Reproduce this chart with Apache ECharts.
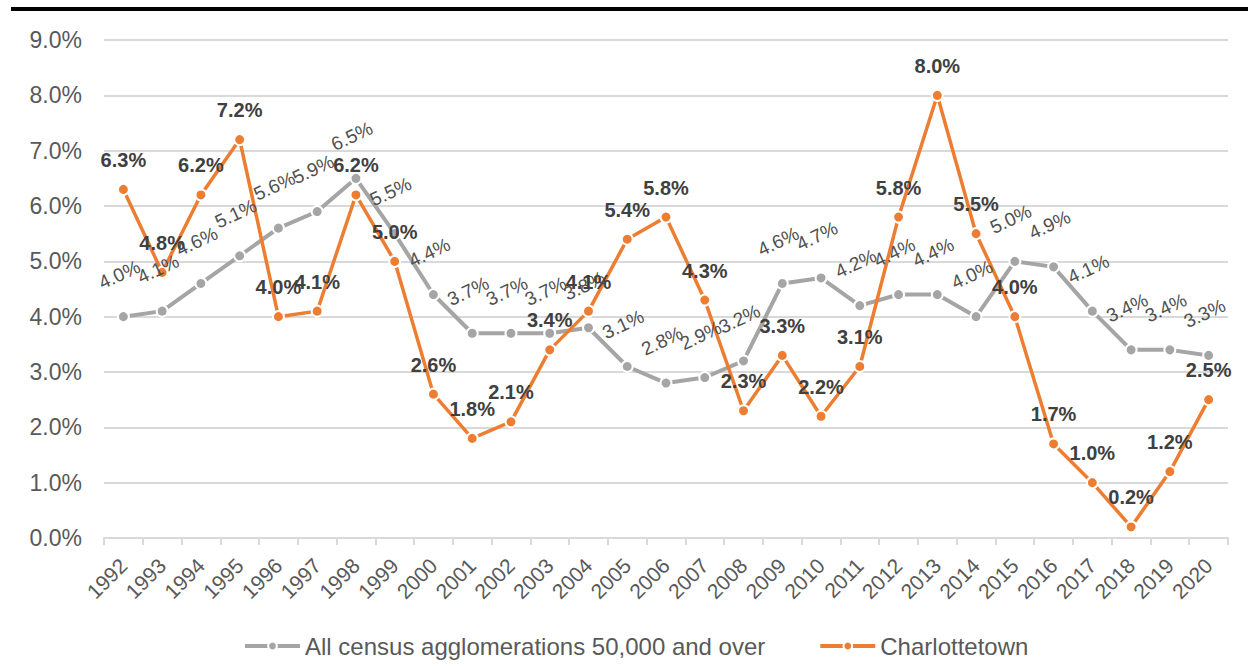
<!DOCTYPE html>
<html>
<head>
<meta charset="utf-8">
<script src="https://cdn.jsdelivr.net/npm/echarts@6/dist/echarts.min.js"></script>
<style>
  html, body { margin: 0; padding: 0; background: #fff; }
  #chart { width: 1248px; height: 666px; }
</style>
</head>
<body>
<div id="chart"></div>
<script>
var years = ['1992', '1993', '1994', '1995', '1996', '1997', '1998', '1999', '2000', '2001',
  '2002', '2003', '2004', '2005', '2006', '2007', '2008', '2009', '2010', '2011',
  '2012', '2013', '2014', '2015', '2016', '2017', '2018', '2019', '2020'];
var allCMA = [4.0, 4.1, 4.6, 5.1, 5.6, 5.9, 6.5, 5.5, 4.4, 3.7,
  3.7, 3.7, 3.8, 3.1, 2.8, 2.9, 3.2, 4.6, 4.7, 4.2,
  4.4, 4.4, 4.0, 5.0, 4.9, 4.1, 3.4, 3.4, 3.3];
var charlottetown = [6.3, 4.8, 6.2, 7.2, 4.0, 4.1, 6.2, 5.0, 2.6, 1.8,
  2.1, 3.4, 4.1, 5.4, 5.8, 4.3, 2.3, 3.3, 2.2, 3.1,
  5.8, 8.0, 5.5, 4.0, 1.7, 1.0, 0.2, 1.2, 2.5];
var seriesNames = ['All census agglomerations 50,000 and over', 'Charlottetown'];

var font = 'Liberation Sans, Arial, sans-serif';
var grey = '#A5A5A5';
var orange = '#ED7D31';
var text = '#595959';
var rule = '#D9D9D9';

function pct(p) { return p.value.toFixed(1) + '%'; }

var chart = echarts.init(document.getElementById('chart'), null, { renderer: 'svg' });
chart.setOption({
  animation: false,
  textStyle: { fontFamily: font },
  graphic: [{
    type: 'rect',
    shape: { x: 11, y: 7, width: 1237, height: 4 },
    style: { fill: '#000' }
  }],
  grid: { left: 104, right: 20, top: 40, bottom: 128 },
  legend: {
    data: seriesNames,
    top: 629,
    left: 238,
    itemGap: 53,
    itemWidth: 55,
    itemHeight: 11,
    lineStyle: { width: 4 },
    textStyle: { color: text, fontSize: 24, fontFamily: font }
  },
  xAxis: {
    type: 'category',
    data: years,
    boundaryGap: true,
    axisLine: { lineStyle: { color: rule, width: 2 } },
    axisTick: { show: true, length: 7, lineStyle: { color: rule, width: 2 } },
    axisLabel: { color: text, fontSize: 21, rotate: 45, interval: 0, margin: 24, fontFamily: font }
  },
  yAxis: {
    type: 'value',
    min: 0,
    max: 9,
    interval: 1,
    axisLine: { show: false },
    axisTick: { show: false },
    splitLine: { lineStyle: { color: rule, width: 2 } },
    axisLabel: {
      color: text, fontSize: 23, margin: 22, fontFamily: font,
      formatter: function(v) { return v.toFixed(1) + '%'; }
    }
  },
  series: [
    {
      name: seriesNames[0],
      type: 'line',
      data: allCMA,
      symbol: 'circle',
      symbolSize: 11,
      itemStyle: { color: grey, borderColor: '#fff', borderWidth: 2 },
      lineStyle: { color: grey, width: 4 },
      label: {
        show: true,
        position: 'top',
        distance: 27,
        rotate: 25,
        color: '#505050',
        fontSize: 19,
        fontFamily: font,
        formatter: pct
      }
    },
    {
      name: seriesNames[1],
      type: 'line',
      data: charlottetown,
      symbol: 'circle',
      symbolSize: 11,
      itemStyle: { color: orange, borderColor: '#fff', borderWidth: 2 },
      lineStyle: { color: orange, width: 3.5 },
      label: {
        show: true,
        position: 'top',
        distance: 13,
        color: '#404040',
        fontSize: 20,
        fontWeight: 'bold',
        fontFamily: font,
        formatter: pct
      }
    }
  ]
});
</script>
</body>
</html>
